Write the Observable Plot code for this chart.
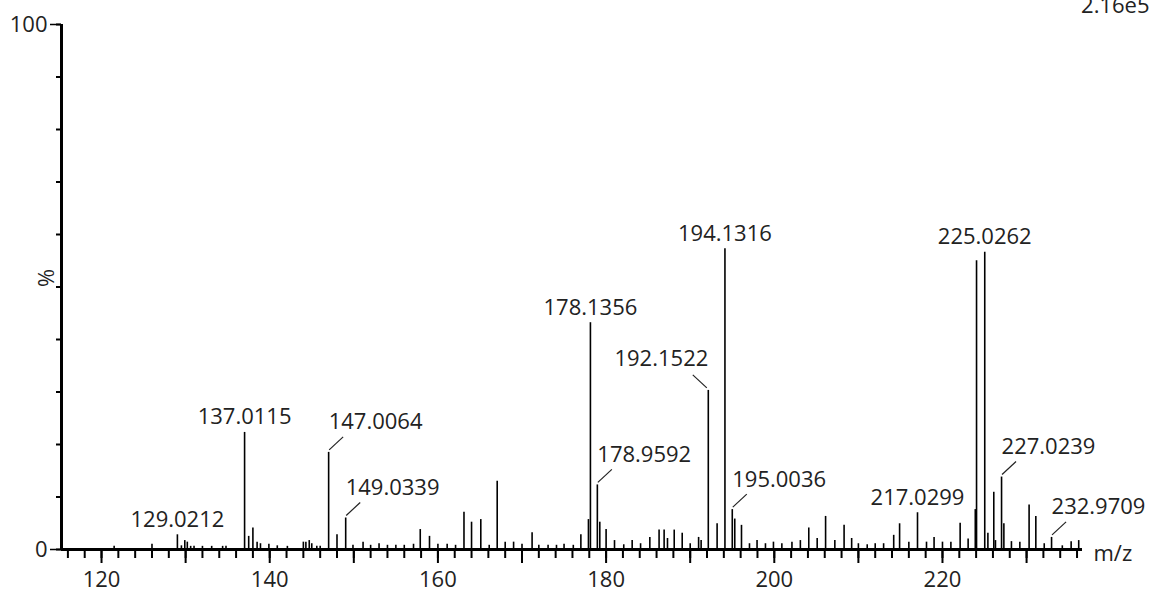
<!DOCTYPE html>
<html><head><meta charset="utf-8">
<script src="https://cdn.jsdelivr.net/npm/d3@7"></script>
<script src="https://cdn.jsdelivr.net/npm/@observablehq/plot@0.6"></script>
<style>html,body{margin:0;padding:0;background:#fff}svg{display:block}</style>
</head><body><div id="chart"></div>
<script>
// Peak positions (m/z) and relative intensities (%)
const peakMz = [121.5,126.0,129.0212,129.5,129.9,130.2,130.6,131.0,132.0,133.1,134.4,134.8,
  137.0115,137.5,138.0,138.5,138.9,139.9,140.9,142.1,144.0,144.3,144.7,145.0,145.6,146.0,
  147.0064,148.0,149.0339,149.9,151.1,152.0,153.0,154.0,155.0,156.0,157.1,157.9,159.0,160.0,
  161.1,162.1,163.1,164.0,165.1,166.1,167.05,168.0,169.0,170.0,171.2,172.0,173.1,174.1,175.0,
  176.1,177.0,177.9,178.1356,178.9592,179.25,180.0,181.0,182.1,183.1,184.1,185.2,186.3,186.9,
  187.3,188.1,189.05,190.0,191.0,191.3,192.1522,193.2,194.1316,195.0036,195.3,196.1,197.05,
  197.95,198.95,199.9,200.9,202.1,203.1,204.1,205.1,206.1,207.2,208.3,209.2,210.0,211.05,212.0,
  213.0,214.2,214.9,216.0,217.0299,218.1,219.0,220.0,221.0,222.1,223.05,223.9,224.05,225.0262,
  225.4,226.1,226.3,227.0239,227.3,228.2,229.2,230.3,231.1,232.1,232.9709,234.25,235.3,236.2];
const peakPct = [0.6,1.0,2.8,0.7,1.7,1.4,0.6,0.6,0.6,0.6,0.6,0.6,
  22.3,2.5,4.1,1.4,1.1,1.0,0.7,0.6,1.4,1.4,1.7,1.1,0.6,0.6,
  18.5,2.8,6.0,0.8,1.4,0.8,1.1,0.8,0.8,0.8,1.0,3.8,2.5,1.0,
  1.0,0.8,7.1,5.2,5.7,0.8,13.0,1.4,1.4,1.0,3.2,0.8,0.8,0.8,1.0,
  0.8,2.8,5.7,43.2,12.3,5.2,3.8,1.7,0.9,1.7,1.1,2.3,3.7,3.7,
  2.1,3.7,3.1,1.1,2.3,1.7,30.3,4.9,57.3,7.6,5.8,4.6,1.1,
  1.7,1.1,1.4,1.1,1.4,1.7,4.1,2.1,6.3,1.7,4.6,2.1,1.1,0.9,1.1,
  1.1,2.7,4.9,1.4,7.0,1.4,2.3,1.4,1.4,5.0,2.0,7.6,55.0,56.6,
  3.1,10.9,1.7,13.8,4.9,1.5,1.4,8.5,6.3,1.1,2.3,0.7,1.5,1.7];

// Annotated peaks
const labelTexts = ["129.0212","137.0115","147.0064","149.0339","178.1356","178.9592","192.1522",
  "194.1316","195.0036","217.0299","225.0262","227.0239","232.9709"];
const leaderRightLabels = ["147.0064","149.0339","178.9592","195.0036","227.0239","232.9709"];
const leaderLeftLabels = ["192.1522"];

// Axis ticks
const xMinorTicks = d3.range(116, 237, 2);
const xMajorTicks = [120,130,140,150,160,170,180,190,200,210,220,230];
const xTickLabels = [120,140,160,180,200,220];
const yMinorTicks = [0,10,20,30,40,50,60,70,80,90,100];
const yTickLabels = [0,100];
const xDomain = [115.24, 236.65];
const yDomain = [0, 100];
const xTitle = "m/z";
const yTitle = "%";
const scaleNote = "2.16e5";

const peaks = peakMz.map((mz, i) => ({mz, pct: peakPct[i]}));
const labels = labelTexts.map(t => {
  const mz = +t;
  const i = peakMz.indexOf(mz);
  const side = leaderRightLabels.includes(t) ? "right" : leaderLeftLabels.includes(t) ? "left" : "above";
  return {mz, pct: peakPct[i], text: t, side};
});

function leaders(index, scales) {
  const g = d3.create("svg:g").attr("stroke", "#222").attr("stroke-width", 1.2);
  for (const d of labels) {
    if (d.side === "above") continue;
    const px = scales.x(d.mz), py = scales.y(d.pct);
    const s = d.side === "right" ? 1 : -1;
    g.append("line").attr("x1", px + s * 1).attr("y1", py - 2)
      .attr("x2", px + s * 15).attr("y2", py - 15);
  }
  return g.node();
}

const chart = Plot.plot({
  width: 1155, height: 592,
  marginLeft: 61, marginRight: 73, marginTop: 24, marginBottom: 43,
  x: {domain: xDomain, label: null},
  y: {domain: yDomain, label: null},
  style: {fontFamily: "'Open Sans', sans-serif", fontSize: "22px", color: "#222", background: "#fff", overflow: "visible"},
  marks: [
    Plot.ruleX(peaks, {x: "mz", y1: 0, y2: "pct", stroke: "#000", strokeWidth: 1.6}),
    Plot.axisX({ticks: xMinorTicks, tickSize: 9, tickFormat: () => "", strokeWidth: 2, stroke: "#000", label: null}),
    Plot.axisX({ticks: xMajorTicks, tickSize: 14, tickPadding: 8, strokeWidth: 2, stroke: "#000", label: null,
      tickFormat: d => xTickLabels.includes(d) ? String(d) : ""}),
    Plot.axisY({ticks: yMinorTicks, tickSize: 5, tickFormat: () => "", strokeWidth: 2, stroke: "#000", label: null}),
    Plot.axisY({ticks: yTickLabels, tickSize: 11, tickPadding: 3, strokeWidth: 1.5, stroke: "#000", label: null}),
    Plot.ruleY([0], {stroke: "#000", strokeWidth: 3}),
    Plot.ruleX([xDomain[0]], {stroke: "#000", strokeWidth: 3}),
    Plot.text(labels.filter(d => d.side === "above"), {x: "mz", y: "pct", text: "text", dy: -15, textAnchor: "middle", fill: "#222"}),
    Plot.text(labels.filter(d => d.side === "right"), {x: "mz", y: "pct", text: "text", dx: 0, dy: -30, textAnchor: "start", fill: "#222"}),
    Plot.text(labels.filter(d => d.side === "left"), {x: "mz", y: "pct", text: "text", dx: 0, dy: -31, textAnchor: "end", fill: "#222"}),
    leaders,
    Plot.text([xTitle], {frameAnchor: "bottom-right", lineAnchor: "middle", text: d => d, dx: 11, dy: 4, textAnchor: "start", fill: "#222"}),
    Plot.text([yTitle], {frameAnchor: "left", lineAnchor: "middle", text: d => d, dx: -15, rotate: -90, fill: "#222"}),
    Plot.text([scaleNote], {frameAnchor: "top-right", lineAnchor: "middle", text: d => d, dx: 67, dy: -19, textAnchor: "end", fill: "#222"})
  ]
});
document.getElementById("chart").appendChild(chart);
</script>
</body></html>
